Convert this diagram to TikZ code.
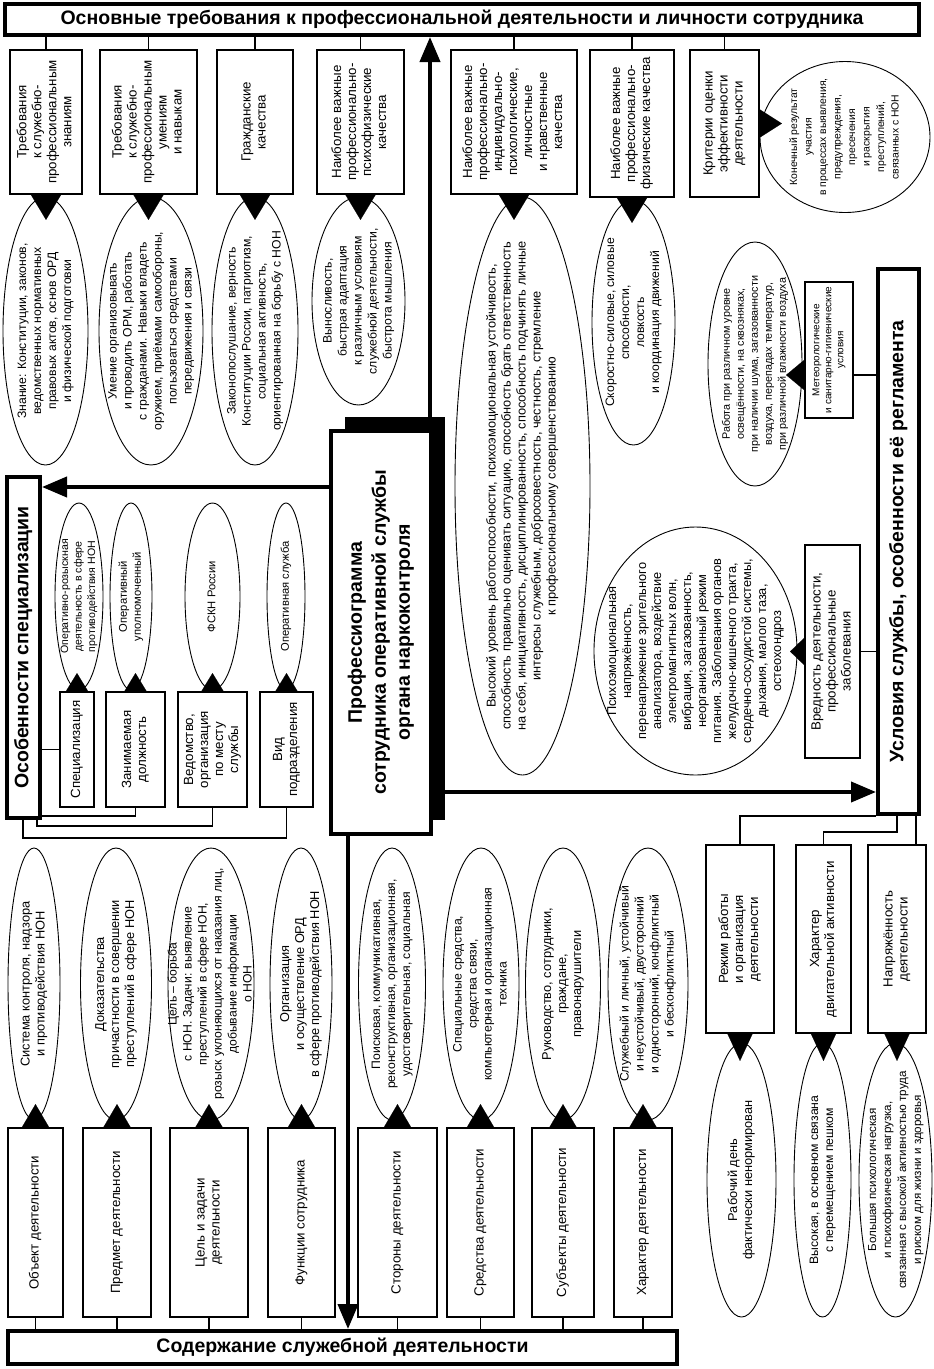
\documentclass[tikz,border=0pt]{standalone}
\usepackage{fontspec}
\setmainfont{Liberation Sans}
\usepackage{graphicx}
\usetikzlibrary{shapes.geometric,arrows.meta,shadows}
\newcommand\rt[1]{\rotatebox{90}{\begin{tabular}{@{}c@{}}#1\end{tabular}}}
\begin{document}
\begin{tikzpicture}[x=1pt,y=-1pt,
 bx/.style={draw,line width=1.8pt,fill=white,inner sep=0pt,font=\fontsize{13.3}{15}\selectfont},
 big/.style={draw,line width=4pt,fill=white,inner sep=0pt,font=\bfseries\fontsize{19.5}{24}\selectfont},
 ell/.style={ellipse,draw,line width=0.9pt,fill=white,inner sep=0pt},
 et/.style={inner sep=0pt,font=\fontsize{12.8}{15}\selectfont},
 etm/.style={inner sep=0pt,font=\fontsize{12.2}{15}\selectfont},
 ets/.style={inner sep=0pt,font=\fontsize{11.2}{14}\selectfont},
 ln/.style={line width=1.6pt},
 thk/.style={line width=4pt,-{Triangle[width=20pt,length=25pt]}},
 tri/.style n args={2}{line width=0.1pt,-{Triangle[width=#1,length=#2]}}]
\useasboundingbox (0,0) rectangle (934,1369);

% ---------- header and footer ----------
\node[big,minimum width=914pt,minimum height=31pt] (hdr) at (462,19.5)
  {Основные требования к профессиональной деятельности и личности сотрудника};
\node[big,minimum width=669pt,minimum height=33pt] (ft) at (342.5,1347.5)
  {Содержание служебной деятельности};

% ---------- top boxes ----------
\node[bx,minimum width=72pt,minimum height=144pt] (b1) at (46,122)
  {\rt{Требования\\к служебно-\\профессиональным\\знаниям}};
\node[bx,minimum width=97pt,minimum height=144pt] (b2) at (148.5,122)
  {\rt{Требования\\к служебно-\\профессиональным\\умениям\\и навыкам}};
\node[bx,minimum width=76pt,minimum height=144pt] (b3) at (255,122)
  {\rt{Гражданские\\качества}};
\node[bx,minimum width=87pt,minimum height=144pt] (b4) at (360.5,122)
  {\rt{Наиболее важные\\профессионально-\\психофизические\\качества}};
\node[bx,minimum width=126pt,minimum height=144pt] (b5) at (514,122)
  {\rt{Наиболее важные\\профессионально-\\индивидуально-\\психологические,\\личностные\\и нравственные\\качества}};
\node[bx,minimum width=84pt,minimum height=147pt] (b6) at (632,123.5)
  {\rt{Наиболее важные\\профессионально-\\физические качества}};
\node[bx,minimum width=69pt,minimum height=147pt] (b7) at (724.5,123.5)
  {\rt{Критерии оценки\\эффективности\\деятельности}};
\foreach \b in {b1,b2,b3,b4,b5,b6,b7}{\draw[ln] (\b.north) -- (\b.north |- hdr.south);}

% ---------- top ellipses ----------
\node[ell,minimum width=170pt,minimum height=151pt] (circ) at (845,137) {};
\node[inner sep=0pt,font=\fontsize{10.4}{14.5}\selectfont] (circt) at (circ) {\rt{Конечный результат\\участия\\в процессах выявления,\\предупреждения,\\пресечения\\и раскрытия\\преступлений,\\связанных с НОН}};
\node[ell,minimum width=85pt,minimum height=268pt] (e1) at (45.5,331) {};
\node[etm] (e1t) at (e1) {\rt{Знание: Конституции, законов,\\ведомственных нормативных\\правовых актов, основ ОРД\\и физической подготовки}};
\node[ell,minimum width=104pt,minimum height=268pt] (e2) at (151,331) {};
\node[etm] (e2t) at (e2) {\rt{Умение организовывать\\и проводить ОРМ, работать\\с гражданами. Навыки владеть\\оружием, приёмами самообороны,\\пользоваться средствами\\передвижения и связи}};
\node[ell,minimum width=86pt,minimum height=268pt] (e3) at (255,331) {};
\node[etm] (e3t) at (e3) {\rt{Законопослушание, верность\\Конституции России, патриотизм,\\социальная активность,\\ориентированная на борьбу с НОН}};
\node[ell,minimum width=93pt,minimum height=208pt] (e4) at (358.5,301) {};
\node[etm] (e4t) at (e4) {\rt{Выносливость,\\быстрая адаптация\\к различным условиям\\служебной деятельности,\\быстрота мышления}};
\node[ell,minimum width=135pt,minimum height=578pt] (e5) at (522.5,486) {};
\node[et] (e5t) at (e5) {\rt{Высокий уровень работоспособности, психоэмоциональная устойчивость,\\способность правильно оценивать ситуацию, способность брать ответственность\\на себя, инициативность, дисциплинированность, способность подчинять личные\\интересы служебным, добросовестность, честность, стремление\\к профессиональному совершенствованию}};
\node[ell,minimum width=83pt,minimum height=245pt] (e6) at (633.5,322.5) {};
\node[etm] (e6t) at (e6) {\rt{Скоростно-силовые, силовые\\способности,\\ловкость\\и координация движений}};
\foreach \b in {b1,b2,b3,b4,b5,b6}{\draw[tri={30pt}{25pt}] (\b.south) -- ([yshift=-25pt]\b.south);}
\draw[tri={28pt}{22pt}] (b7.east) -- ([xshift=22pt]b7.east);

% ---------- centre ----------
\node[big,minimum width=100pt,minimum height=403pt,
  drop shadow={opacity=1,fill=black,shadow xshift=14pt,shadow yshift=14pt}] (cb) at (381,632.5)
  {\rt{Профессиограмма\\сотрудника оперативной службы\\органа наркоконтроля}};

% ---------- left: specialisation ----------
\node[big,minimum width=33pt,minimum height=341pt] (os) at (23.5,647.5) {\rt{Особенности специализации}};
\node[bx,minimum width=34pt,minimum height=115pt] (s1) at (77,749.5) {\rt{Специализация}};
\node[bx,minimum width=59pt,minimum height=115pt] (s2) at (135.5,749.5) {\rt{Занимаемая\\должность}};
\node[bx,minimum width=69pt,minimum height=115pt] (s3) at (212.5,749.5) {\rt{Ведомство,\\организация\\по месту\\службы}};
\node[bx,minimum width=53pt,minimum height=115pt] (s4) at (286.5,749.5) {\rt{Вид\\подразделения}};
\node[ell,minimum width=48pt,minimum height=187pt] (se1) at (79,596.5) {};
\node[inner sep=0pt,font=\fontsize{10.6}{13.5}\selectfont] (se1t) at (se1) {\rt{Оперативно-розыскная\\деятельность в сфере\\противодействия НОН}};
\node[ell,minimum width=42pt,minimum height=187pt] (se2) at (131,596.5) {};
\node[ets] (se2t) at (se2) {\rt{Оперативный\\уполномоченный}};
\node[ell,minimum width=55pt,minimum height=187pt] (se3) at (212.5,596.5) {};
\node[ets] (se3t) at (se3) {\rt{ФСКН России}};
\node[ell,minimum width=38pt,minimum height=187pt] (se4) at (286,596.5) {};
\node[ets] (se4t) at (se4) {\rt{Оперативная служба}};
\foreach \b in {s1,s2,s3,s4}{\draw[tri={22pt}{18pt}] (\b.north) -- ([yshift=18pt]\b.north);}
\draw[ln] (s1.west) -- (s1.west -| os.east);
\draw[ln] (s2.south) -- ++(0,8) coordinate (c2) -- (c2 -| os.east);
\draw[ln] (s3.south) -- ++(0,18) -| ([xshift=13.5pt]os.south);
\draw[ln] (s4.south) -- ++(0,30) -| ([xshift=-0.5pt]os.south);

% ---------- right: conditions ----------
\node[big,minimum width=41pt,minimum height=545pt] (us) at (898.5,541.5) {\rt{Условия службы, особенности её регламента}};
\node[bx,minimum width=48pt,minimum height=136pt,font=\fontsize{10}{12}\selectfont] (mb) at (829,350)
  {\rt{Метеорологические\\и санитарно-гигиенические\\условия}};
\node[ell,minimum width=94pt,minimum height=244pt] (me) at (755,364) {};
\node[inner sep=0pt,font=\fontsize{10.8}{14}\selectfont] (met) at (me) {\rt{Работа при различном уровне\\освещённости, на сквозняках,\\при наличии шума, загазованности\\воздуха, перепадах температур,\\при различной влажности воздуха}};
\coordinate (m1) at ([yshift=-25pt]mb.east);
\coordinate (m2) at ([yshift=-25pt]mb.west);
\draw[ln] (m1) -- (m1 -| us.west);
\draw[tri={30pt}{18pt}] (m2) -- ([xshift=-18pt]m2);
\node[bx,minimum width=55pt,minimum height=213pt] (vb) at (832.5,651.5)
  {\rt{Вредность деятельности,\\профессиональные\\заболевания}};
\node[ell,minimum width=203pt,minimum height=248pt] (ve) at (695.5,651) {};
\node[et] (vet) at (ve) {\rt{Психоэмоциональная\\напряжённость,\\перенапряжение зрительного\\анализатора, воздействие\\электромагнитных волн,\\вибрация, загазованность,\\неорганизованный режим\\питания. Заболевания органов\\желудочно-кишечного тракта,\\сердечно-сосудистой системы,\\дыхания, малого таза,\\остеохондроз}};
\draw[ln] (vb.east) -- (vb.east -| us.west);
\draw[tri={27pt}{14pt}] (vb.west) -- ([xshift=-14pt]vb.west);

\node[bx,minimum width=68pt,minimum height=188pt] (r1) at (740,939) {\rt{Режим работы\\и организация\\деятельности}};
\node[bx,minimum width=55pt,minimum height=188pt] (r2) at (823.5,939) {\rt{Характер\\двигательной активности}};
\node[bx,minimum width=58pt,minimum height=188pt] (r3) at (897,939) {\rt{Напряжённость\\деятельности}};
\draw[ln] (r1.north) |- (us.south west);
\draw[ln] (r2.north) -- ++(0,-12) -| ([xshift=-1.5pt]us.south);
\coordinate (r3c) at ([xshift=19pt]r3.north);
\draw[ln] (r3c) -- (r3c |- us.south);
\node[ell,minimum width=69pt,minimum height=274pt] (re1) at (741.5,1180) {};
\node[et] (re1t) at (re1) {\rt{Рабочий день\\фактически ненормирован}};
\node[ell,minimum width=57pt,minimum height=274pt] (re2) at (822.5,1180) {};
\node[etm] (re2t) at (re2) {\rt{Высокая, в основном связана\\с перемещением пешком}};
\node[ell,minimum width=73pt,minimum height=274pt] (re3) at (895.5,1180) {};
\node[inner sep=0pt,font=\fontsize{11.6}{15}\selectfont] (re3t) at (re3) {\rt{Большая психологическая\\и психофизическая нагрузка,\\связанная с высокой активностью труда\\и риском для жизни и здоровья}};
\foreach \b in {r1,r2,r3}{\draw[tri={25pt}{27pt}] (\b.south) -- ([yshift=-27pt]\b.south);}

% ---------- bottom: content of activity ----------
\node[ell,minimum width=52pt,minimum height=272pt] (be1) at (34,984) {};
\node[et] (be1t) at (be1) {\rt{Система контроля, надзора\\и противодействия НОН}};
\node[ell,minimum width=71pt,minimum height=272pt] (be2) at (116,984) {};
\node[et] (be2t) at (be2) {\rt{Доказательства\\причастности в совершении\\преступлений в сфере НОН}};
\node[ell,minimum width=86pt,minimum height=272pt] (be3) at (211,984) {};
\node[etm] (be3t) at (be3) {\rt{Цель – борьба\\с НОН. Задачи: выявление\\преступлений в сфере НОН,\\розыск уклоняющихся от наказания лиц,\\добывание информации\\о НОН}};
\node[ell,minimum width=62pt,minimum height=272pt] (be4) at (301,984) {};
\node[et] (be4t) at (be4) {\rt{Организация\\и осуществление ОРД\\в сфере противодействия НОН}};
\node[ell,minimum width=67pt,minimum height=272pt] (be5) at (392,984) {};
\node[etm] (be5t) at (be5) {\rt{Поисковая, коммуникативная,\\реконструктивная, организационная,\\удостоверительная, социальная}};
\node[ell,minimum width=76pt,minimum height=272pt] (be6) at (481,984) {};
\node[etm] (be6t) at (be6) {\rt{Специальные средства,\\средства связи,\\компьютерная и организационная\\техника}};
\node[ell,minimum width=75pt,minimum height=272pt] (be7) at (563,984) {};
\node[et] (be7t) at (be7) {\rt{Руководство, сотрудники,\\граждане,\\правонарушители}};
\node[ell,minimum width=80pt,minimum height=272pt] (be8) at (648,984) {};
\node[etm] (be8t) at (be8) {\rt{Служебный и личный, устойчивый\\и неустойчивый, двусторонний\\и односторонний, конфликтный\\и бесконфликтный}};

\node[bx,minimum width=55pt,minimum height=189pt] (bb1) at (35.5,1222.5) {\rt{Объект деятельности}};
\node[bx,minimum width=68pt,minimum height=189pt] (bb2) at (117,1222.5) {\rt{Предмет деятельности}};
\node[bx,minimum width=78pt,minimum height=189pt] (bb3) at (209,1222.5) {\rt{Цель и задачи\\деятельности}};
\node[bx,minimum width=67pt,minimum height=189pt] (bb4) at (301.5,1222.5) {\rt{Функции сотрудника}};
\node[bx,minimum width=79pt,minimum height=189pt] (bb5) at (397.5,1222.5) {\rt{Стороны деятельности}};
\node[bx,minimum width=67pt,minimum height=189pt] (bb6) at (480.5,1222.5) {\rt{Средства деятельности}};
\node[bx,minimum width=62pt,minimum height=189pt] (bb7) at (563,1222.5) {\rt{Субъекты деятельности}};
\node[bx,minimum width=58pt,minimum height=189pt] (bb8) at (643,1222.5) {\rt{Характер деятельности}};
\foreach \b in {bb1,bb2,bb3,bb4,bb5,bb6,bb7,bb8}{
  \draw[ln] (\b.south) -- (\b.south |- ft.north);
  \draw[tri={27pt}{23pt}] (\b.north) -- ([yshift=23pt]\b.north);}

% ---------- thick arrows from the centre ----------
\coordinate (ua) at ([xshift=49pt]cb.north);
\draw[thk] (ua) -- (ua |- hdr.south);
\coordinate (la) at ([yshift=145.5pt]cb.west);
\draw[thk] (la) -- (la -| os.east);
\coordinate (ra) at ([yshift=-159.5pt]cb.east);
\draw[thk] (ra) -- (ra -| us.west);
\coordinate (da) at ([xshift=-33pt]cb.south);
\draw[thk] (da) -- (da |- ft.north);
\end{tikzpicture}
\end{document}
